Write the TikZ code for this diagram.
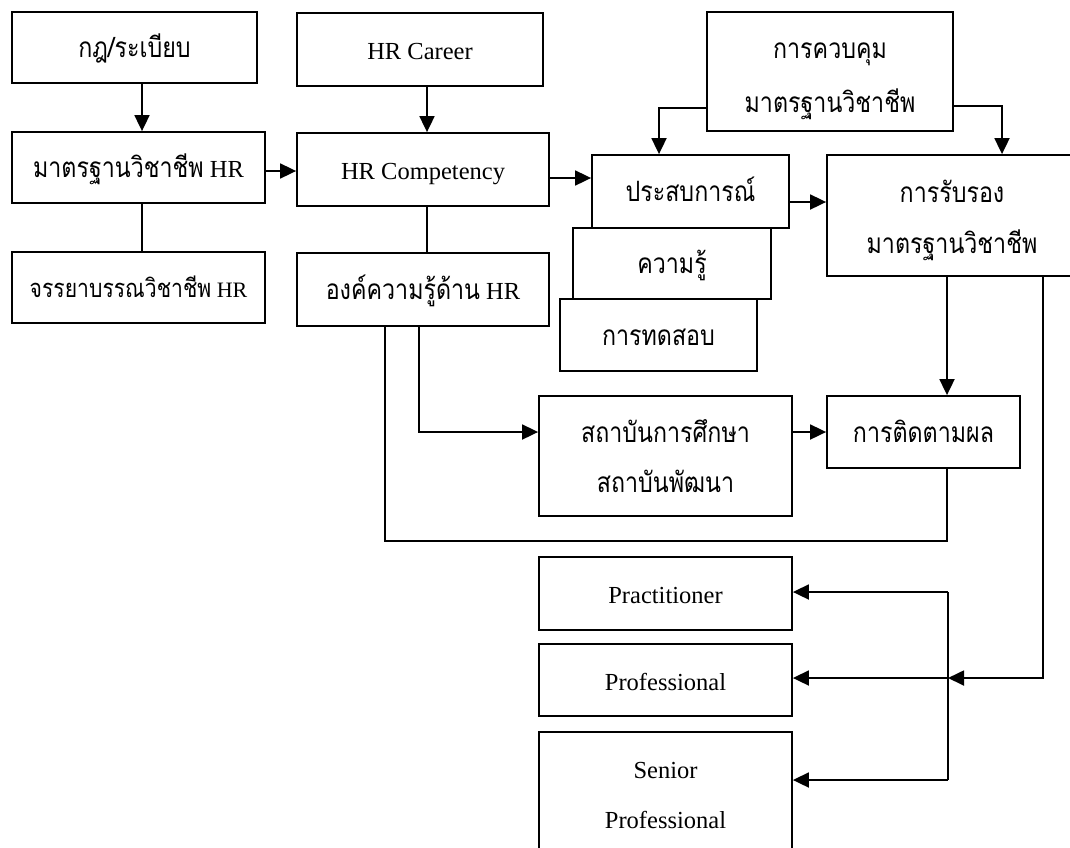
\documentclass[tikz,border=0pt]{standalone}
\usepackage{fontspec}
\setmainfont{Liberation Serif}
\newfontfamily\thai[Script=Thai,FakeStretch=0.83]{Loma}
\newcommand{\tht}[1]{{\thai\fontsize{28}{50}\selectfont #1}}
\newcommand{\thts}[1]{{\thai\fontsize{25.5}{50}\selectfont #1}}
\usetikzlibrary{arrows.meta}
\begin{document}
\begin{tikzpicture}[x=1pt,y=-1pt,
  box/.style={draw, line width=1.8pt, inner sep=0pt, align=center,
              font=\fontsize{24.5}{50}\selectfont,
              text height=35pt, text depth=15pt},
  arr/.style={line width=1.8pt, -{Triangle[length=16pt,width=15pt]}},
  thinline/.style={line width=1.2pt}]
\useasboundingbox (0,0) rectangle (1070,847);
\fill[white] (0,0) rectangle (1070,847);
\clip (0,0) rectangle (1070,847);

% left column
\node[box, minimum width=245pt, minimum height=71pt] (A) at (134.5,47.5) {\tht{กฎ/ระเบียบ}};
\node[box, minimum width=253pt, minimum height=71pt] (B) at (138.5,167.5) {\tht{มาตรฐานวิชาชีพ} HR};
\node[box, minimum width=253pt, minimum height=71pt, font=\fontsize{22}{50}\selectfont] (C) at (138.5,287.5) {\thts{จรรยาบรรณวิชาชีพ} HR};

% second column
\node[box, minimum width=246pt, minimum height=73pt] (D) at (420,49.5) {HR Career};
\node[box, minimum width=252pt, minimum height=73pt] (E) at (423,169.5) {HR Competency};
\node[box, minimum width=252pt, minimum height=73pt] (F) at (423,289.5) {\tht{องค์ความรู้ด้าน} HR};

% third column
\node[box, minimum width=246pt, minimum height=119pt, font=\fontsize{24.5}{54}\selectfont, text height=89pt, text depth=8pt] (G) at (830,71.5) {\tht{การควบคุม}\\\tht{มาตรฐานวิชาชีพ}};
\node[box, fill=white, minimum width=197pt, minimum height=72pt] (J) at (658.5,335) {\tht{การทดสอบ}};
\node[box, fill=white, minimum width=198pt, minimum height=71pt] (I) at (672,263.5) {\tht{ความรู้}};
\node[box, fill=white, minimum width=197pt, minimum height=73pt] (H) at (690.5,191.5) {\tht{ประสบการณ์}};
\node[box, minimum width=250pt, minimum height=121pt, font=\fontsize{24.5}{51}\selectfont, text height=86pt, text depth=11pt] (K) at (952,215.5) {\tht{การรับรอง}\\\tht{มาตรฐานวิชาชีพ}};

% middle
\node[box, minimum width=253pt, minimum height=120pt, text height=85pt, text depth=13pt] (L) at (665.5,456) {\tht{สถาบันการศึกษา}\\\tht{สถาบันพัฒนา}};
\node[box, minimum width=193pt, minimum height=72pt] (M) at (923.5,432) {\tht{การติดตามผล}};

% levels
\node[box, minimum width=253pt, minimum height=73pt] (N) at (665.5,593.5) {Practitioner};
\node[box, minimum width=253pt, minimum height=72pt] (O) at (665.5,680) {Professional};
\node[box, minimum width=253pt, minimum height=126pt, text height=85pt, text depth=19pt] (P) at (665.5,795) {Senior\\Professional};

% connectors
\draw[arr] (A.south -| 142,0) -- (B.north -| 142,0);
\draw[thinline] (B.south -| 142,0) -- (C.north -| 142,0);
\draw[arr] (B.east |- 0,171) -- (E.west |- 0,171);
\draw[arr] (D.south -| 427,0) -- (E.north -| 427,0);
\draw[thinline] (E.south -| 427,0) -- (F.north -| 427,0);
\draw[arr] (E.east |- 0,178) -- (H.west |- 0,178);
\draw[arr] (H.east |- 0,202) -- (K.west |- 0,202);
\draw[arr] (G.west |- 0,108) -| (H.north -| 659,0);
\draw[arr] (G.east |- 0,106) -| (K.north -| 1002,0);
\draw[arr] (K.south -| 947,0) -- (M.north -| 947,0);
\draw[arr] (F.south -| 419,0) |- (L.west |- 0,432);
\draw[arr] (L.east |- 0,432) -- (M.west |- 0,432);
\coordinate (lb) at (947,541);
\draw[thinline] (F.south -| 385,0) |- (lb) -- (M.south -| lb);

\coordinate (jn) at (948,678);
\coordinate (t1) at (948,592);
\coordinate (t3) at (948,780);
\draw[thinline] (K.south -| 1043,0) |- ([xshift=12pt]jn);
\draw[arr] ([xshift=14pt]jn) -- (jn);
\draw[thinline] (t1) -- (t3);
\draw[arr] (t1) -- (N.east |- t1);
\draw[arr] (jn) -- (O.east |- jn);
\draw[arr] (t3) -- (P.east |- t3);
\end{tikzpicture}
\end{document}
